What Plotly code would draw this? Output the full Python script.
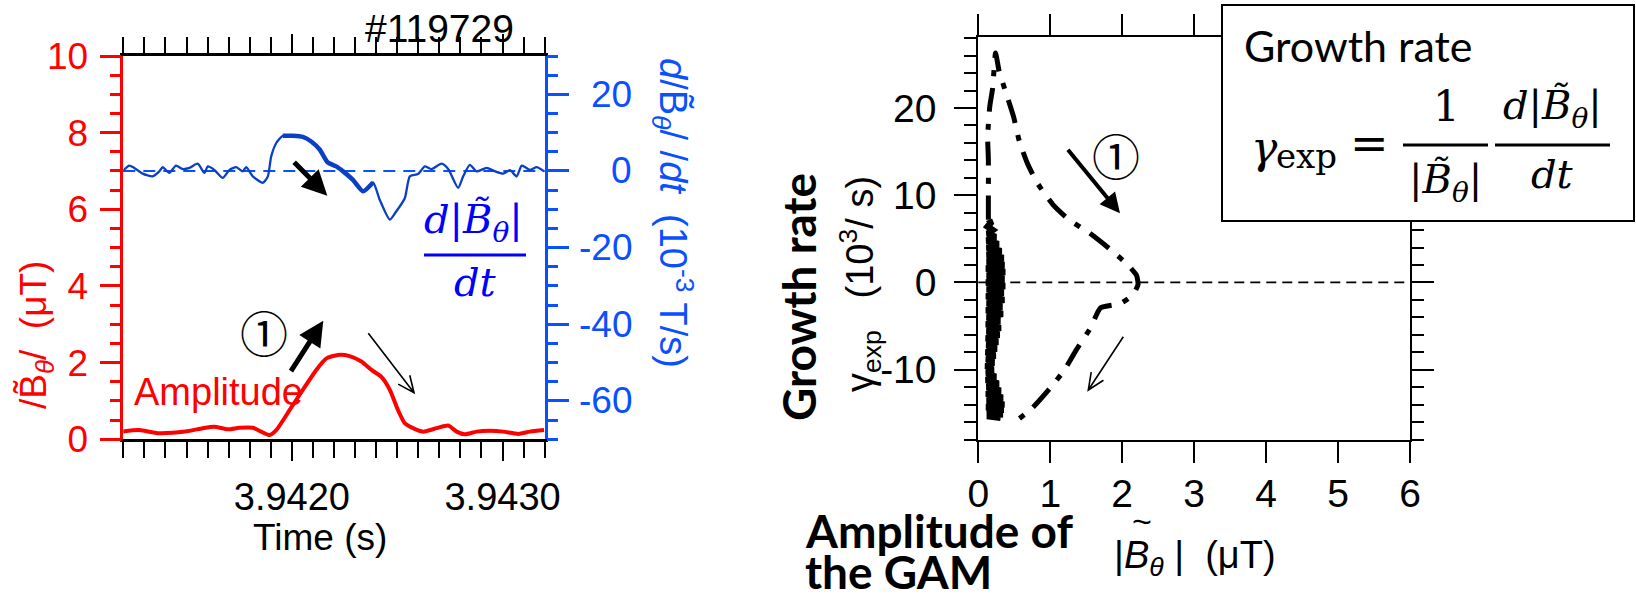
import plotly.graph_objects as go
import math

W, H = 1636, 599

# ---------------- data: left panel (shot #119729) ----------------
time_amp = [3.941196, 3.941276, 3.941363, 3.941434, 3.941514, 3.941577, 3.941632, 3.941696,
            3.941751, 3.941815, 3.941854, 3.941894, 3.941926, 3.941989, 3.942052, 3.942116,
            3.942164, 3.942219, 3.942274, 3.942330, 3.942378, 3.942425, 3.942465, 3.942504,
            3.942536, 3.942575, 3.942623, 3.942687, 3.942742, 3.942782, 3.942821, 3.942877,
            3.942940, 3.943003, 3.943075, 3.943130, 3.943197]
amplitude = [0.20, 0.24, 0.16, 0.17, 0.22, 0.29, 0.33, 0.26, 0.30, 0.30, 0.20, 0.11, 0.24,
             0.76, 1.29, 1.81, 2.11, 2.20, 2.17, 2.03, 1.81, 1.63, 1.29, 0.76, 0.42, 0.29,
             0.20, 0.29, 0.36, 0.20, 0.13, 0.20, 0.22, 0.20, 0.14, 0.20, 0.24]

time_deriv = [3.941196, 3.941228, 3.941252, 3.941292, 3.941339, 3.941371, 3.941387, 3.941418,
              3.941450, 3.941482, 3.941514, 3.941553, 3.941585, 3.941601, 3.941632, 3.941672,
              3.941704, 3.941736, 3.941767, 3.941783, 3.941815, 3.941862, 3.941886, 3.941902,
              3.941926, 3.941957, 3.942005, 3.942052, 3.942092, 3.942132, 3.942171, 3.942211,
              3.942243, 3.942290, 3.942338, 3.942385, 3.942417, 3.942465, 3.942496, 3.942536,
              3.942560, 3.942599, 3.942631, 3.942663, 3.942710, 3.942742, 3.942789, 3.942813,
              3.942845, 3.942877, 3.942924, 3.942964, 3.943003, 3.943035, 3.943067, 3.943091,
              3.943130, 3.943162, 3.943197]
deriv = [-0.1, 1.4, 0.8, -0.7, -1.4, -0.1, 1.0, -0.5, 1.4, 0.5, 0.8, 1.9, -0.5, 1.2, 0.3,
         -1.8, 0.3, 1.0, -0.1, 1.0, -1.4, -3.1, -1.4, 3.8, 7.3, 9.2, 9.2, 8.9, 7.7, 5.6, 2.2,
         1.2, -0.1, -2.3, -5.3, -3.0, -7.5, -12.7, -10.5, -7.1, -1.4, -0.8, 1.2, 0.5, 1.9,
         0.5, -4.4, -1.4, 1.6, -0.1, 0.8, -0.1, -0.7, 0.2, -1.4, 1.4, 0.3, 1.0, -0.1]
burst_start, burst_end = 3.941950, 3.942390

time_ticks = [3.9415, 3.9420, 3.9425, 3.9430]
time_ticktext = ["", "3.9420", "", "3.9430"]
time_long_ticks = [3.9420, 3.9430]
deriv_ticks = [-60, -40, -20, 0, 20]

# ---------------- data: right panel (growth rate vs amplitude) ----------------
amp_traj = [0.14, 0.14, 0.14, 0.13, 0.16, 0.20, 0.24, 0.29, 0.39, 0.49, 0.57, 0.68, 0.82,
            1.04, 1.26, 1.54, 1.84, 2.08, 2.20, 2.22, 2.15, 1.98, 1.70, 1.56, 1.35, 1.20,
            1.00, 0.75, 0.51]
gamma_traj = [7.2, 10.0, 14.1, 16.7, 20.2, 22.3, 26.3, 24.2, 21.6, 19.0, 16.2, 13.7, 11.4,
              8.9, 7.2, 5.7, 3.75, 2.0, 0.8, -0.26, -1.4, -2.4, -2.9, -5.2, -7.9, -10.0,
              -12.1, -14.4, -16.0]

amp_noise = [0.15, 0.17, 0.13, 0.20, 0.13, 0.24, 0.12, 0.28, 0.12, 0.32, 0.12, 0.35, 0.12,
             0.36, 0.11, 0.37, 0.12, 0.36, 0.11, 0.37, 0.12, 0.35, 0.11, 0.36, 0.12, 0.33,
             0.11, 0.34, 0.12, 0.30, 0.11, 0.31, 0.12, 0.29, 0.11, 0.27, 0.12, 0.25, 0.11,
             0.23, 0.12, 0.21, 0.11, 0.20, 0.12, 0.24, 0.11, 0.28, 0.12, 0.31, 0.11, 0.34,
             0.12, 0.36, 0.11, 0.35, 0.12, 0.34, 0.12, 0.31, 0.13, 0.28, 0.15]
gamma_noise = [7.2, 6.8, 6.4, 6.0, 5.6, 5.2, 4.8, 4.4, 4.0, 3.6, 3.2, 2.8, 2.4, 2.0, 1.6,
               1.2, 0.8, 0.4, 0.0, -0.4, -0.8, -1.2, -1.6, -2.0, -2.4, -2.8, -3.2, -3.6,
               -4.0, -4.4, -4.8, -5.2, -5.6, -6.0, -6.4, -6.8, -7.2, -7.6, -8.0, -8.4, -8.8,
               -9.2, -9.6, -10.0, -10.4, -10.8, -11.2, -11.6, -12.0, -12.4, -12.8, -13.2,
               -13.6, -14.0, -14.3, -14.6, -14.9, -15.1, -15.3, -15.5, -15.4, -15.6, -15.3]

amp_ticks = [0, 1, 2, 3, 4, 5, 6]
gamma_ticks = [-10, 0, 10, 20]
gamma_ticktext = ["-10", "0", "10", "20"]

# ---------------- styling helpers ----------------
SANS = "Liberation Sans, Arial, sans-serif"
SERIF = "DejaVu Serif, serif"
BOLD = "Lato, sans-serif"
RED = "#ff0000"
BLUE_AX = "#0a50ff"
BLUE_LN = "#0b3fc4"
BLUE_TX = "#0000ff"


def px(x):
    return x / W


def py(y):
    return 1 - y / H


annotations = []
shapes = []


def text(t, x, y, size, color="black", family=SANS, xanchor="center", yanchor="middle", angle=0):
    annotations.append(dict(text=t, x=px(x), y=py(y), xref="paper", yref="paper",
                            showarrow=False, xanchor=xanchor, yanchor=yanchor, textangle=angle,
                            font=dict(size=size, color=color, family=family)))


def thick_arrow(tail, head, width=5, color="black", size=1.0):
    annotations.append(dict(text="", x=px(head[0]), y=py(head[1]), xref="paper", yref="paper",
                            showarrow=True, ax=tail[0] - head[0], ay=tail[1] - head[1],
                            axref="pixel", ayref="pixel", arrowhead=2, arrowsize=size,
                            arrowwidth=width, arrowcolor=color, standoff=0))


def thin_arrow(tail, head, hl=18, ang=24, width=1.6):
    dx, dy = head[0] - tail[0], head[1] - tail[1]
    a = math.atan2(dy, dx)
    p1 = (head[0] - hl * math.cos(a - math.radians(ang)), head[1] - hl * math.sin(a - math.radians(ang)))
    p2 = (head[0] - hl * math.cos(a + math.radians(ang)), head[1] - hl * math.sin(a + math.radians(ang)))
    path = (f"M {px(tail[0])} {py(tail[1])} L {px(head[0])} {py(head[1])} "
            f"M {px(p1[0])} {py(p1[1])} L {px(head[0])} {py(head[1])} L {px(p2[0])} {py(p2[1])}")
    shapes.append(dict(type="path", path=path, xref="paper", yref="paper",
                       line=dict(color="black", width=width), layer="above"))


def hline(x0, x1, y, color="black", width=3):
    shapes.append(dict(type="line", x0=px(x0), x1=px(x1), y0=py(y), y1=py(y), xref="paper",
                       yref="paper", line=dict(color=color, width=width), layer="above"))


fig = go.Figure()

# left panel traces
fig.add_trace(go.Scatter(x=time_amp, y=amplitude, mode="lines",
                         line=dict(color=RED, width=4, shape="spline", smoothing=0.6),
                         xaxis="x", yaxis="y", showlegend=False, hoverinfo="skip"))
fig.add_trace(go.Scatter(x=time_deriv, y=deriv, mode="lines",
                         line=dict(color=BLUE_LN, width=2.3, shape="spline", smoothing=0.6),
                         xaxis="x", yaxis="y2", showlegend=False, hoverinfo="skip"))
bt = [t for t in time_deriv if burst_start <= t <= burst_end]
bd = [d for t, d in zip(time_deriv, deriv) if burst_start <= t <= burst_end]
fig.add_trace(go.Scatter(x=bt, y=bd, mode="lines",
                         line=dict(color=BLUE_LN, width=4.5, shape="spline", smoothing=0.6),
                         xaxis="x", yaxis="y2", showlegend=False, hoverinfo="skip"))
fig.add_trace(go.Scatter(x=[3.9420], y=[None], mode="lines", xaxis="x3", yaxis="y",
                         showlegend=False, hoverinfo="skip"))

# right panel traces
fig.add_trace(go.Scatter(x=amp_noise, y=gamma_noise, mode="lines", line=dict(color="black", width=6.5),
                         xaxis="x2", yaxis="y3", showlegend=False, hoverinfo="skip"))
fig.add_trace(go.Scatter(x=amp_traj, y=gamma_traj, mode="lines",
                         line=dict(color="black", width=5, dash="24px,12px,6px,12px",
                                   shape="spline", smoothing=0.5),
                         xaxis="x2", yaxis="y3", showlegend=False, hoverinfo="skip"))

# reference zero lines
shapes.append(dict(type="line", xref="x domain", yref="y2", x0=0, x1=1, y0=0, y1=0,
                   line=dict(color=BLUE_AX, width=2, dash="12px,8px"), layer="below"))
shapes.append(dict(type="line", xref="x2 domain", yref="y3", x0=0, x1=1, y0=0, y1=0,
                   line=dict(color="black", width=1.8, dash="10px,6px"), layer="below"))

# legend/formula box
shapes.append(dict(type="rect", xref="paper", yref="paper", x0=px(1222), x1=px(1634),
                   y0=py(221), y1=py(5), fillcolor="white", line=dict(color="black", width=2),
                   layer="above"))

LX0, LX1, LY0, LY1 = 123.3, 544.7, 56, 439.3
RX0, RX1, RY0, RY1 = 978.3, 1410, 37.3, 439.5

fig.update_layout(
    width=W, height=H, margin=dict(l=0, r=0, t=0, b=0, autoexpand=False),
    paper_bgcolor="white", plot_bgcolor="rgba(0,0,0,0)",
    font=dict(family=SANS, color="black"),
    xaxis=dict(domain=[px(LX0), px(LX1)], anchor="y", range=[3.9412, 3.9432],
               tickmode="array", tickvals=time_ticks, ticktext=time_ticktext,
               ticks="outside", ticklen=16, tickwidth=2, tickcolor="black",
               minor=dict(tickmode="linear", tick0=3.9412, dtick=0.0001, ticks="outside",
                          ticklen=10, tickwidth=2, tickcolor="black"),
               showline=True, linecolor="black", linewidth=2.5, mirror="allticks",
               showgrid=False, zeroline=False, tickfont=dict(size=38, color="black"),
               ticklabelstandoff=6, automargin=False),
    xaxis3=dict(overlaying="x", anchor="y", range=[3.9412, 3.9432], tickmode="array",
                tickvals=time_long_ticks, ticks="outside", ticklen=21, tickwidth=2,
                tickcolor="black", showticklabels=False, showline=False, mirror="allticks",
                showgrid=False, zeroline=False, automargin=False),
    yaxis=dict(domain=[py(LY1), py(LY0)], anchor="x", range=[0, 10], dtick=2, tick0=0,
               ticks="outside", ticklen=21, tickwidth=2.5, tickcolor=RED,
               minor=dict(dtick=0.5, tick0=0, ticks="outside", ticklen=11, tickwidth=2.5,
                          tickcolor=RED),
               showline=True, linecolor=RED, linewidth=2.5, showgrid=False, zeroline=False,
               tickfont=dict(size=37, color=RED), ticklabelstandoff=4, automargin=False),
    yaxis2=dict(overlaying="y", side="right", anchor="x", range=[-70, 30],
                tickmode="array", tickvals=deriv_ticks, showticklabels=False,
                ticks="outside", ticklen=22, tickwidth=2.5, tickcolor=BLUE_AX,
                minor=dict(tickmode="linear", tick0=0, dtick=5, ticks="outside", ticklen=11,
                           tickwidth=2.5, tickcolor=BLUE_AX),
                showline=True, linecolor=BLUE_AX, linewidth=2.5, showgrid=False, zeroline=False,
                automargin=False),
    xaxis2=dict(domain=[px(RX0), px(RX1)], anchor="y3", range=[0, 6], tickmode="array",
                tickvals=amp_ticks, ticks="outside", ticklen=21, tickwidth=2, tickcolor="black",
                showline=True, linecolor="black", linewidth=2, mirror="allticks",
                showgrid=False, zeroline=False, tickfont=dict(size=39, color="black"),
                ticklabelstandoff=-2, automargin=False),
    yaxis3=dict(domain=[py(RY1), py(RY0)], anchor="x2", range=[-18, 28.1], tickmode="array",
                tickvals=gamma_ticks, ticktext=gamma_ticktext, ticks="outside", ticklen=22,
                tickwidth=2, tickcolor="black",
                minor=dict(tickmode="linear", tick0=0, dtick=2, ticks="outside", ticklen=12,
                           tickwidth=2, tickcolor="black"),
                showline=True, linecolor="black", linewidth=2, mirror="allticks",
                showgrid=False, zeroline=False, tickfont=dict(size=39, color="black"),
                ticklabelstandoff=10, automargin=False),
)

# right (blue) axis tick labels, right-aligned like the reference
for v in deriv_ticks:
    annotations.append(dict(text=str(v), x=px(634), y=v, xref="paper", yref="y2",
                            showarrow=False, xanchor="right", yanchor="middle",
                            font=dict(size=37, color=BLUE_AX, family=SANS)))

# ---------------- left panel texts ----------------
text("#119729", 439, 28, 39)
text("Time (s)", 320, 537, 37)
text("/B\u0303<sub><i>θ</i></sub>/  (μT)", 36, 335, 37, color=RED, angle=-90)
text("<i>d</i>/B\u0303<sub><i>θ</i></sub>/ /<i>dt</i>  (10<sup>-3</sup> T/s)", 673, 213, 38,
     color=BLUE_AX, angle=90)
text("Amplitude", 218, 392, 38, color=RED)
text("①", 264, 331, 48, family="Noto Sans CJK JP")
text("<i>d</i>|<i>B\u0303</i><sub><i>θ</i></sub>|", 474, 222, 40, color=BLUE_TX, family=SERIF)
hline(424, 526, 255, color=BLUE_TX, width=3)
text("<i>dt</i>", 475, 282, 40, color=BLUE_TX, family=SERIF)
thick_arrow((290, 372.7), (323.3, 320.7), width=5)
thick_arrow((292.7, 160.7), (327.3, 195.7), width=5)
thin_arrow((368.3, 333.3), (414, 392.7))

# ---------------- right panel texts ----------------
text("<b>Growth rate</b>", 798, 297, 46, family=BOLD, angle=-90)
text("γ<sub>exp</sub>   (10<sup>3</sup>/ s)", 860, 284, 38, angle=-90)
text("<b>Amplitude of</b>", 803, 530, 46, family=BOLD, xanchor="left")
text("<b>the GAM</b>", 803, 571, 46, family=BOLD, xanchor="left")
text("|<i>B</i><sub><i>θ</i></sub> |  (μT)", 1195, 558, 38)
text("~", 1142, 521, 34)
text("①", 1116, 154, 48, family="Noto Sans CJK JP")
thick_arrow((1066.7, 148.3), (1120, 213.3), width=4)
thin_arrow((1123.3, 336.7), (1088.3, 390))

# legend box content
text("Growth rate", 1242, 45, 43, family="Lato, sans-serif", xanchor="left")
text("<i>γ</i>", 1264, 147, 44, family=SERIF)
text("exp", 1306, 156, 34, family=SERIF)
text("=", 1369, 143, 46, family=SERIF)
text("1", 1446, 107, 42, family=SERIF)
hline(1403, 1488, 145)
text("|<i>B\u0303</i><sub><i>θ</i></sub>|", 1445, 182, 40, family=SERIF)
text("<i>d</i>|<i>B\u0303</i><sub><i>θ</i></sub>|", 1552, 109, 40, family=SERIF)
hline(1495, 1610, 145)
text("<i>dt</i>", 1552, 174, 40, family=SERIF)

fig.update_layout(annotations=annotations, shapes=shapes)
fig.write_html("out.html")
